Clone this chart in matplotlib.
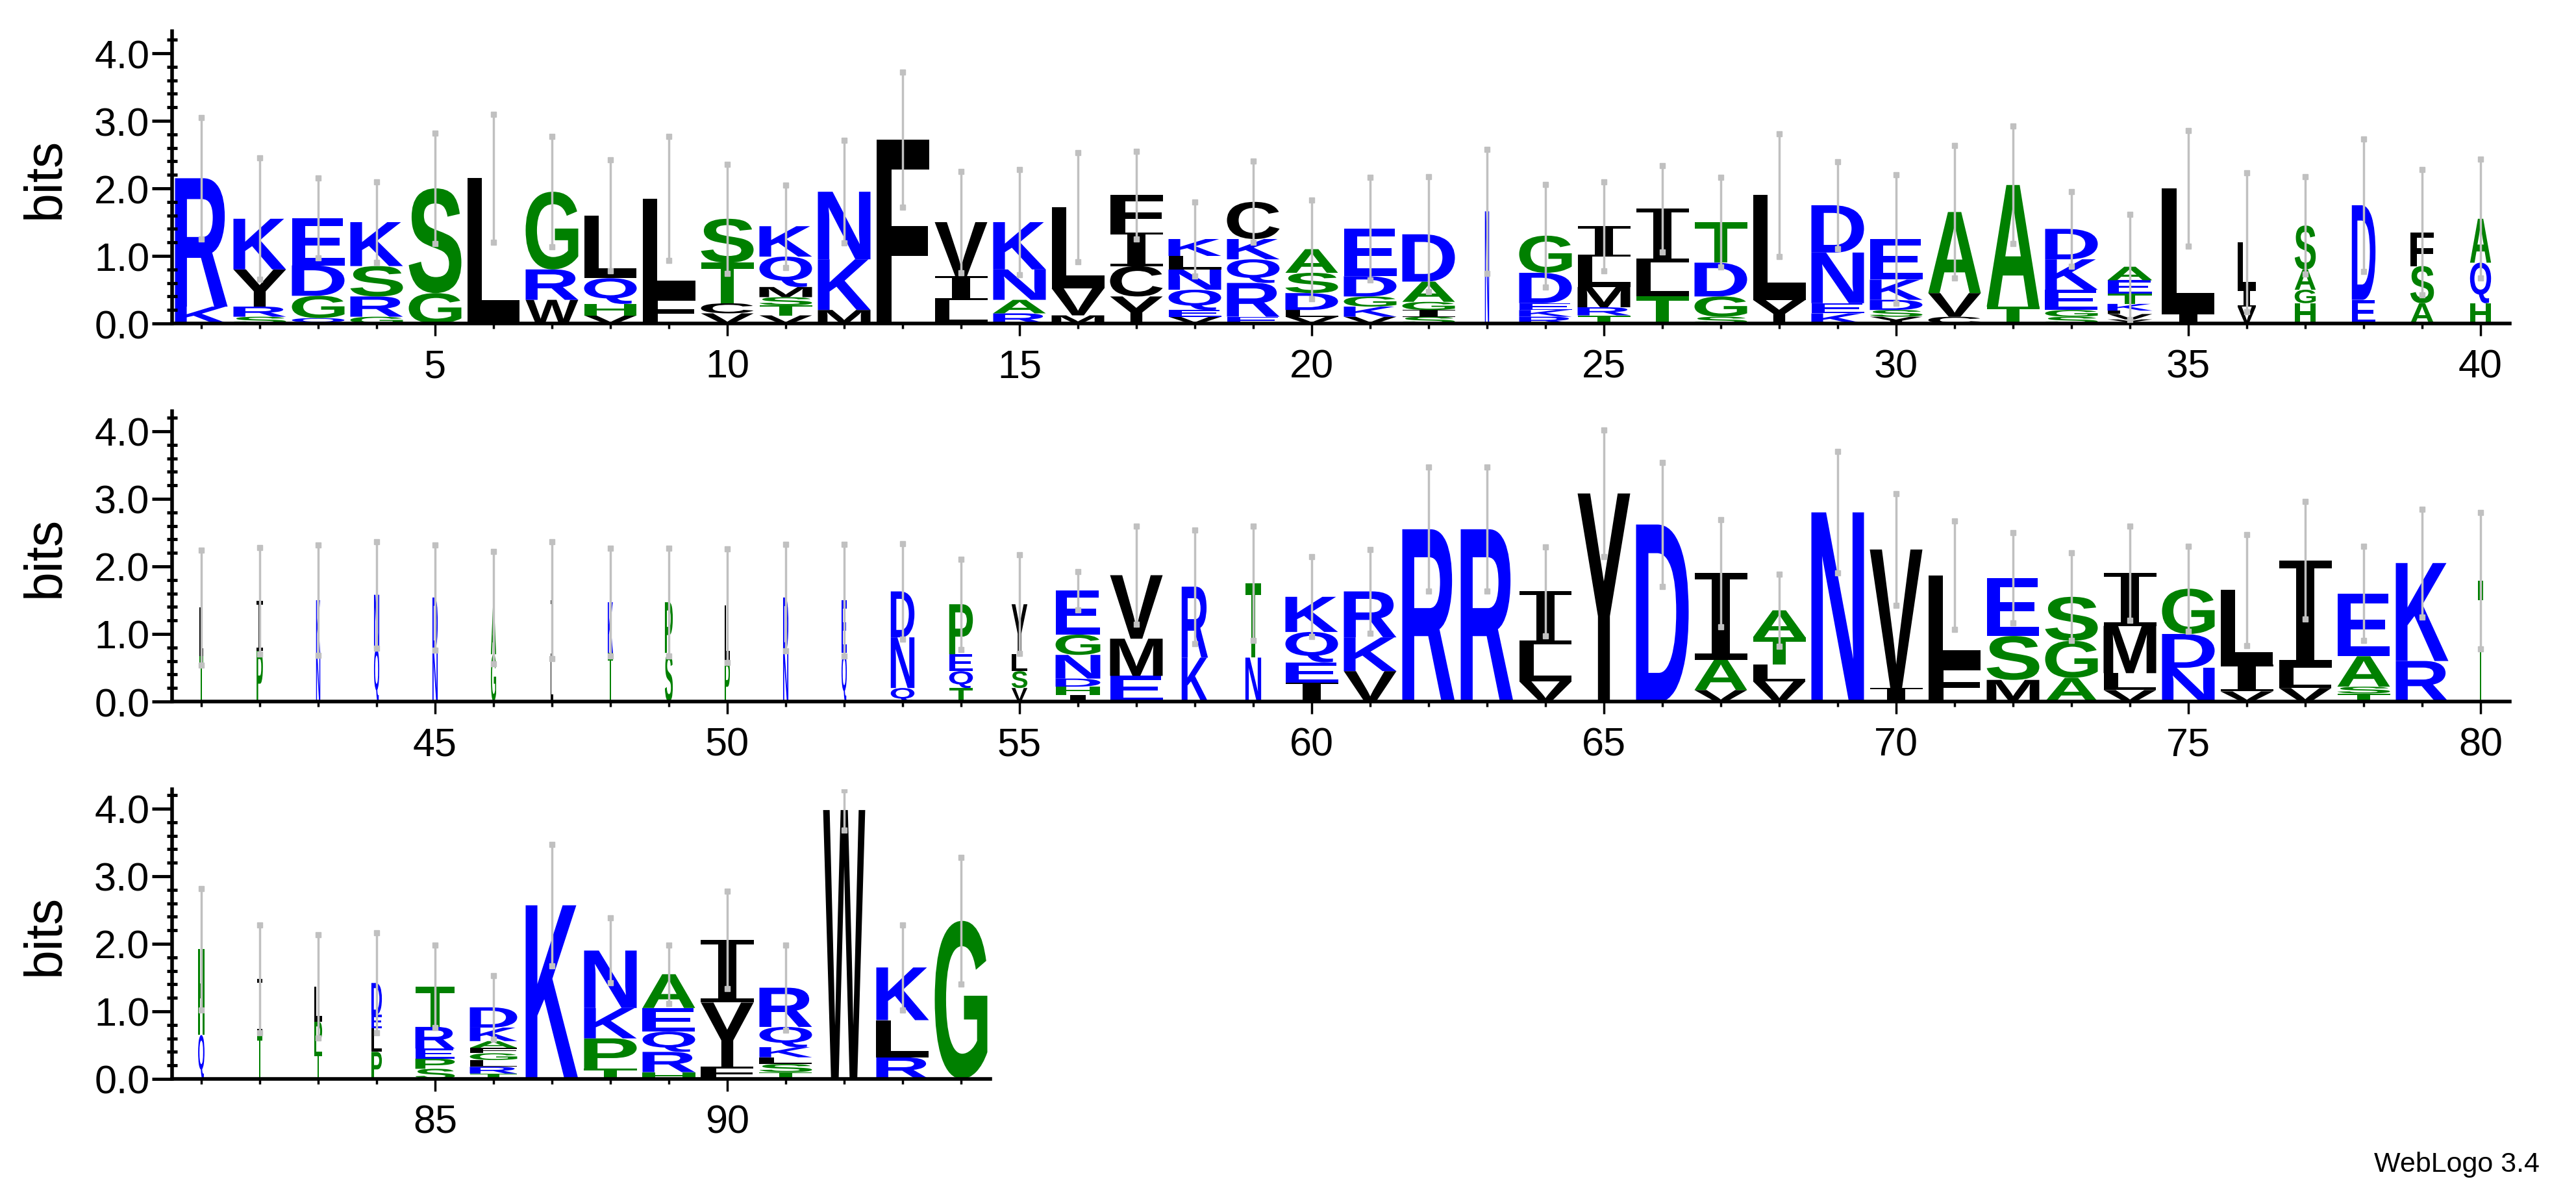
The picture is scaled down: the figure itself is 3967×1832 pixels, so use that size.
import matplotlib
matplotlib.use('Agg')
import matplotlib.pyplot as plt
from matplotlib.textpath import TextPath
from matplotlib.font_manager import FontProperties
from matplotlib.patches import PathPatch
from matplotlib.transforms import Affine2D
from matplotlib.ticker import MultipleLocator

# ---- data: stacks bottom->top "Letter:bits" ----
row1_stacks = [
    "K:.25 R:1.9", "S:.1 R:.15 Y:.55 K:.75", "Q:.08 G:.33 D:.45 E:.7", "G:.1 R:.3 S:.45 K:.65",
    "G:.45 S:1.55", "L:2.15", "W:.35 R:.45 G:1.15", "V:.12 H:.17 Q:.38 L:.93",
    "F:.4 L:1.45", "V:.15 C:.15 T:.6 S:.65", "V:.12 T:.15 S:.12 M:.15 Q:.45 K:.45", "M:.2 K:.75 N:1.0",
    "F:2.72", "L:.35 I:.35 V:.8", "R:.15 A:.2 N:.45 K:.7", "M:.12 V:.4 L:1.2",
    "Y:.4 C:.45 I:.5 F:.55", "V:.1 E:.1 Q:.3 N:.3 L:.2 K:.25", "E:.1 R:.5 Q:.35 K:.3 C:.55", "V:.1 L:.1 D:.25 S:.3 A:.35",
    "V:.1 K:.15 G:.15 D:.3 E:.7", "S:.1 I:.1 G:.12 A:.3 D:.7", "N:1.66", "R:.1 K:.1 E:.1 D:.45 G:.55",
    "T:.12 R:.12 M:.3 L:.45 I:.45", "T:.4 L:.5 I:.8", "S:.1 G:.3 D:.5 T:.6", "Y:.35 L:1.55",
    "K:.15 E:.15 N:.75 D:.7", "Y:.1 S:.1 D:.15 K:.3 E:.6", "C:.1 V:.35 A:1.2", "T:.25 A:1.8",
    "S:.1 G:.1 E:.3 K:.45 D:.45", "Y:.06 V:.08 L:.05 K:.1 T:.15 E:.2 A:.2", "I:.15 L:1.85", "V:.25 I:.25 L:.7",
    "H:.3 G:.2 A:.3 S:.65", "E:.35 D:1.4", "A:.3 S:.55 F:.5", "H:.3 Q:.6 A:.65",
]
row1_widths = [1]*22 + [.08] + [1]*10 + [.85, 1, .35, .4, .45, .45, .4]
row1_errtop = [3.05, 2.45, 2.15, 2.1, 2.82, 3.1, 2.77, 2.42, 2.77, 2.36, 2.05, 2.71, 3.72, 2.25, 2.28, 2.53,
               2.55, 1.8, 2.4, 1.83, 2.16, 2.17, 2.58, 2.06, 2.1, 2.34, 2.16, 2.81, 2.39, 2.2, 2.63, 2.92,
               1.95, 1.62, 2.86, 2.23, 2.17, 2.73, 2.28, 2.43]

row2_stacks = [
    "T:.67 L:.72", "P:.75 I:.74", "N:.72 K:.78", "Q:.78 N:.8", "N:.78 D:.76", "G:.7 A:.69",
    "L:.65 I:.85", "T:.72 K:.75", "S:.72 P:.75", "P:.62 L:.8", "N:.75 D:.79", "Q:.72 E:.78",
    "Q:.2 N:.75 D:.68", "T:.2 Q:.25 E:.25 P:.74", "V:.2 S:.25 L:.25 Y:.74", "I:.1 H:.12 D:.12 N:.35 G:.3 E:.65",
    "E:.38 M:.55 V:.94", "K:.65 R:1.05", "N:.65 T:1.1", "I:.28 E:.3 Q:.45 K:.52",
    "V:.45 K:.5 R:.68", "R:2.55", "R:2.55", "V:.3 L:.55 I:.78",
    "Y:3.08", "D:2.62", "V:.17 A:.45 I:1.28", "V:.3 L:.25 T:.4 A:.4",
    "N:2.8", "I:.2 V:2.05", "F:.55 L:1.32", "M:.32 S:.65 E:.86",
    "A:.35 G:.55 S:.65", "V:.17 L:.25 M:.7 I:.78", "N:.5 D:.5 G:.67", "V:.15 I:.4 L:1.1",
    "V:.2 L:.3 I:1.59", "T:.12 S:.1 A:.45 E:.93", "R:.6 K:1.45", "T:1.79",
]
row2_widths = [.08, .12, .08, .1, .1, .1, .06, .1, .15, .1, .1, .1, .45, .45, .3, .85, 1, .5, .3, 1,
               1, 1, 1, 1, 1, 1, 1, 1, 1, 1, 1, 1, 1, 1, 1, 1, 1, 1, 1, .1]
row2_errtop = [2.24, 2.28, 2.32, 2.37, 2.32, 2.22, 2.37, 2.27, 2.27, 2.26, 2.33, 2.33, 2.34, 2.11, 2.17, 1.92,
               2.6, 2.54, 2.6, 2.14, 2.25, 3.47, 3.47, 2.29, 4.02, 3.54, 2.69, 1.88, 3.7, 3.08, 2.67, 2.5,
               2.2, 2.6, 2.3, 2.47, 2.96, 2.3, 2.85, 2.8]

row3_stacks = [
    "Q:.65 H:1.27", "T:.68 I:.8", "T:.4 P:.45 L:.52", "P:.4 L:.35 E:.2 D:.47",
    "S:.15 P:.15 E:.15 R:.32 T:.6", "T:.08 R:.1 L:.1 G:.1 F:.08 A:.1 K:.2 D:.3", "K:2.57", "T:.15 P:.45 K:.45 N:.85",
    "H:.1 R:.3 Q:.3 E:.35 A:.5", "F:.18 Y:.95 I:.93", "T:.1 S:.12 L:.1 K:.15 Q:.3 R:.58", "W:3.98",
    "R:.32 L:.55 K:.78", "G:2.34",
]
row3_widths = [.12, .1, .15, .2, .75, .9, 1, 1, 1, 1, 1, .8, 1, 1]
row3_errtop = [2.82, 2.28, 2.13, 2.16, 1.98, 1.53, 3.47, 2.38, 1.98, 2.78, 1.98, 4.28, 2.28, 3.28]

BLUE, GREEN, BLACK = '#0000ff', '#008000', '#000000'
colors = {}
for c in "KRDENQ": colors[c] = BLUE
for c in "GSTAPH": colors[c] = GREEN
for c in "LIVFMWCY": colors[c] = BLACK

fp = FontProperties(family='Liberation Sans', weight='bold')
fpI = FontProperties(family='DejaVu Serif', weight='normal')
_cache = {}

def glyph(letter):
    if letter not in _cache:
        p = TextPath((0, 0), letter, size=1, prop=fpI if letter == 'I' else fp)
        _cache[letter] = (p, p.get_extents())
    return _cache[letter]

def draw_letter(ax, x, letter, y0, h, w):
    p, bb = glyph(letter)
    t = Affine2D().translate(-bb.x0, -bb.y0).scale(w / bb.width, h / bb.height).translate(x - w / 2, y0)
    ax.add_patch(PathPatch(t.transform_path(p), fc=colors[letter], ec='none', lw=0))

def parse(s):
    out = []
    for tok in s.split():
        l, v = tok.split(':')
        out.append((l, float(v)))
    return out

W, H = 3967, 1833
fig = plt.figure(figsize=(W / 100, H / 100), dpi=100)
ppos = 90.0
rows = [
    (row1_stacks, row1_widths, row1_errtop, 1, 499, 49),
    (row2_stacks, row2_widths, row2_errtop, 41, 1081, 634),
    (row3_stacks, row3_widths, row3_errtop, 81, 1662, 1216),
]
for stacks, widths, errtop, start, ybot, ytop in rows:
    n = len(stacks)
    left = 265
    ax = fig.add_axes([left / W, 1 - ybot / H, n * ppos / W, (ybot - ytop) / H])
    top = (ybot - ytop) / 104.0
    ax.set_xlim(start - 0.5, start + n - 0.5)
    ax.set_ylim(0, top)
    for i, s in enumerate(stacks):
        x = start + i
        y = 0
        for l, h in parse(s):
            draw_letter(ax, x, l, y, h, 0.9 * widths[i])
            y += h
        err = errtop[i] - y
        ax.plot([x, x], [y - err, y + err], color='#c0c0c0', lw=2.5, zorder=5)
        ax.plot([x, x], [y - err, y + err], ls='none', marker='s', ms=6, color='#c0c0c0', zorder=5)
    for sp in ['top', 'right']:
        ax.spines[sp].set_visible(False)
    ax.spines['left'].set_linewidth(4)
    ax.spines['bottom'].set_linewidth(4)
    ax.set_yticks([0, 1, 2, 3, 4])
    ax.set_yticklabels(['0.0', '1.0', '2.0', '3.0', '4.0'])
    ax.yaxis.set_minor_locator(MultipleLocator(0.2))
    ax.tick_params(axis='y', which='major', length=22, width=3.5, labelsize=44, pad=3)
    ax.tick_params(axis='y', which='minor', length=12, width=3.5, direction='inout')
    xs_major = [v for v in range(start, start + n) if v % 5 == 0]
    ax.set_xticks(xs_major)
    ax.set_xticklabels([str(v) for v in xs_major])
    ax.set_xticks(list(range(start, start + n)), minor=True)
    ax.tick_params(axis='x', which='major', length=14, width=2.5, labelsize=44, pad=14)
    ax.tick_params(axis='x', which='minor', length=6, width=2.5)
    for lab in ax.get_xticklabels() + ax.get_yticklabels():
        lab.set_family('Liberation Sans')
    fig.text(70 / W, 1 - (ybot + ytop) / 2 / H, 'bits', rotation=90, fontsize=58,
             ha='center', va='center', family='Liberation Sans')

fig.text(3911 / W, 1 - 1793 / H, 'WebLogo 3.4', ha='right', va='center', fontsize=31,
         family='Liberation Sans')
fig.savefig('out.png', dpi=100)
